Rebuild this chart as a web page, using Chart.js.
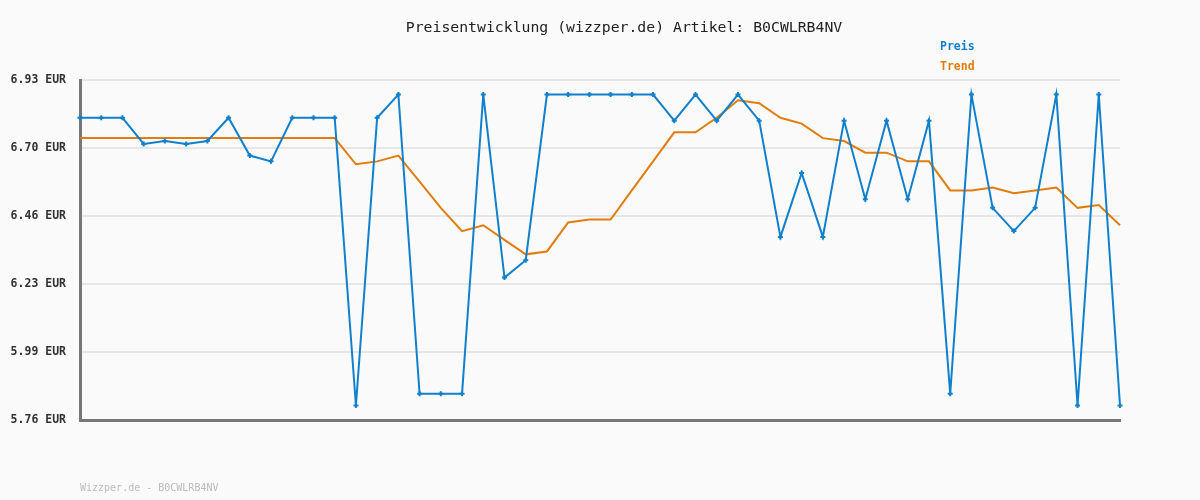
<!DOCTYPE html>
<html>
<head>
<meta charset="utf-8">
<script src="https://cdn.jsdelivr.net/npm/chart.js@4/dist/chart.umd.min.js"></script>
<style>
  html,body{margin:0;padding:0;background:#fafafa;}
  #wrap{width:1200px;height:500px;}
</style>
</head>
<body>
<div id="wrap"><canvas id="chartPreis"></canvas></div>
<script>
/* ==========================================
   DATA
========================================== */
const labels = Array.from({length:50},(_,i)=>String(i+1));

const preis = [
  6.80,6.80,6.80,6.71,6.72,6.71,6.72,6.80,6.67,6.65,
  6.80,6.80,6.80,5.81,6.80,6.88,5.85,5.85,5.85,6.88,
  6.25,6.31,6.88,6.88,6.88,6.88,6.88,6.88,6.79,6.88,
  6.79,6.88,6.79,6.39,6.61,6.39,6.79,6.52,6.79,6.52,
  6.79,5.85,6.88,6.49,6.41,6.49,6.88,5.81,6.88,5.81
];

const trend = [
  6.73,6.73,6.73,6.73,6.73,6.73,6.73,6.73,6.73,6.73,
  6.73,6.73,6.73,6.64,6.65,6.67,6.58,6.49,6.41,6.43,
  6.38,6.33,6.34,6.44,6.45,6.45,6.55,6.65,6.75,6.75,
  6.80,6.86,6.85,6.80,6.78,6.73,6.72,6.68,6.68,6.65,
  6.65,6.55,6.55,6.56,6.54,6.55,6.56,6.49,6.50,6.43
];

const yTicks = [5.76,5.994,6.228,6.462,6.696,6.93];

const titleText = "Preisentwicklung (wizzper.de) Artikel: B0CWLRB4NV";
const footerText = "Wizzper.de - B0CWLRB4NV";

const BLUE = "#1180cc";
const ORANGE = "#e07d0e";
const MONO = "'DejaVu Sans Mono', 'Liberation Mono', monospace";

/* ==========================================
   TEXT PLUGIN (title, legend, footer)
========================================== */
const textPlugin = {
  id:"texts",
  afterDraw(chart){
    const ctx = chart.ctx;
    ctx.save();
    ctx.textBaseline = "middle";

    ctx.font = "14.8px " + MONO;
    ctx.fillStyle = "#222";
    ctx.textAlign = "center";
    ctx.fillText(titleText, 624, 28);

    ctx.font = "bold 11.5px " + MONO;
    ctx.textAlign = "left";
    ctx.fillStyle = BLUE;
    ctx.fillText("Preis", 940, 47);
    ctx.fillStyle = ORANGE;
    ctx.fillText("Trend", 940, 67);

    ctx.font = "10px " + MONO;
    ctx.fillStyle = "#bbb";
    ctx.fillText(footerText, 80, 488);
    ctx.restore();
  }
};

const bgPlugin = {
  id:"bg",
  beforeDraw(chart){
    const ctx = chart.ctx;
    ctx.save();
    ctx.fillStyle = "#fafafa";
    ctx.fillRect(0,0,chart.width,chart.height);
    ctx.restore();
  }
};

/* ==========================================
   CHART
========================================== */
new Chart(
  document.getElementById("chartPreis"),
  {
    type:"line",
    data:{
      labels,
      datasets:[
        {
          label:"Trend",
          data:trend,
          borderColor:ORANGE,
          borderWidth:2,
          pointRadius:0,
          tension:0,
          order:2
        },
        {
          label:"Preis",
          data:preis,
          borderColor:BLUE,
          backgroundColor:BLUE,
          borderWidth:2,
          pointStyle:"cross",
          pointRadius:2.5,
          pointBorderWidth:2,
          pointBorderColor:BLUE,
          tension:0,
          order:1
        }
      ]
    },
    options:{
      responsive:true,
      maintainAspectRatio:false,
      animation:false,
      layout:{
        padding:{left:0,right:80,top:80,bottom:80}
      },
      plugins:{
        legend:{display:false},
        title:{display:false},
        tooltip:{enabled:false}
      },
      scales:{
        x:{
          ticks:{display:false},
          grid:{display:false,drawTicks:false},
          border:{display:true,color:"#777",width:3},
          afterFit(s){ s.height = 0; }
        },
        y:{
          min:5.76,
          max:6.93,
          afterFit(s){ s.width = 80; },
          afterBuildTicks(s){
            s.ticks = yTicks.map(v=>({value:v}));
          },
          ticks:{
            padding:14,
            color:"#333",
            font:{family:MONO,size:11.5,weight:"bold"},
            callback:v=>Number(v).toFixed(2)+" EUR"
          },
          grid:{
            color:"#e6e6e6",
            lineWidth:2,
            drawTicks:false
          },
          border:{display:true,color:"#777",width:3}
        }
      }
    },
    plugins:[bgPlugin,textPlugin]
  }
);
</script>
</body>
</html>
